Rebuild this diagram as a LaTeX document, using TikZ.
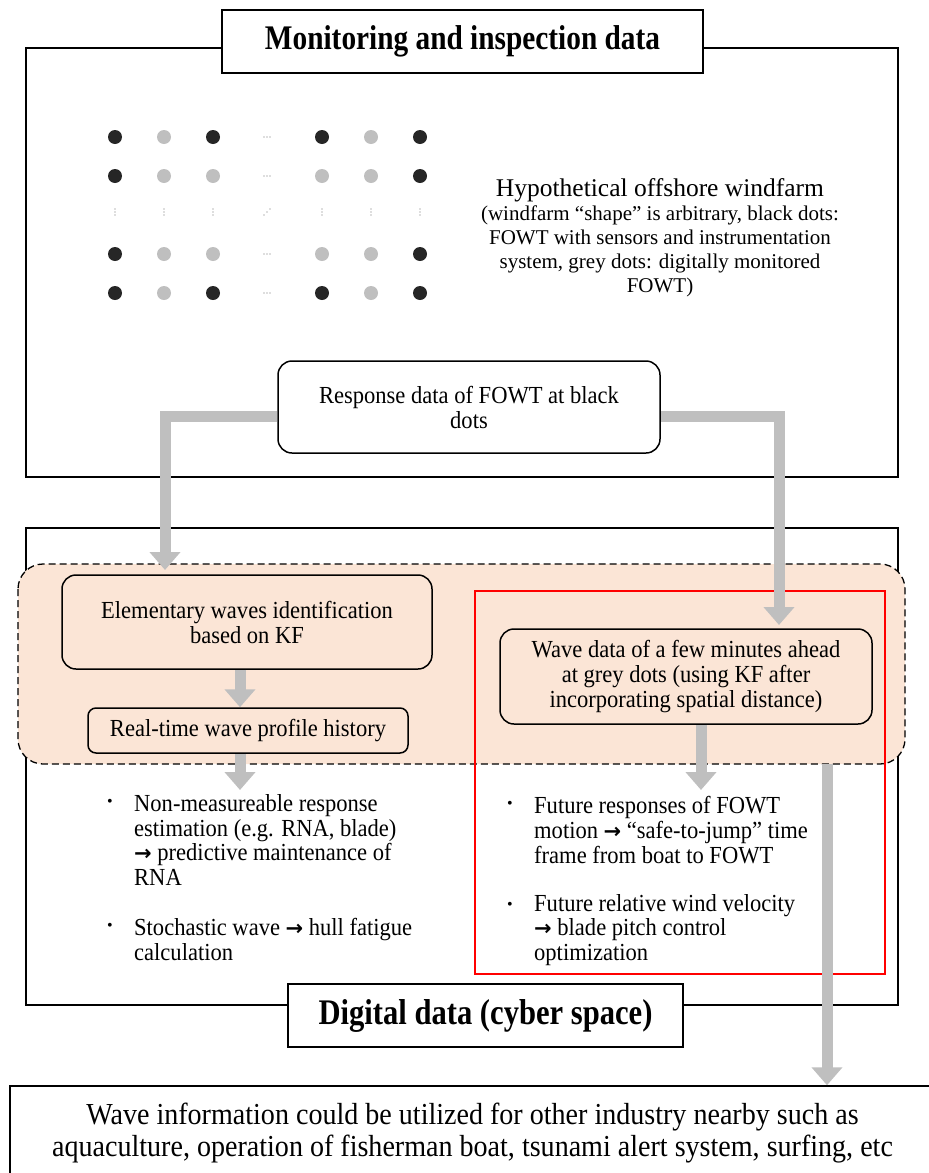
\documentclass[tikz,border=0pt]{standalone}
\usepackage{fontspec}
\setmainfont{Liberation Serif}
\newfontfamily\cond[FakeStretch=0.85]{Liberation Serif}
\newfontfamily\condb[FakeStretch=0.92]{Liberation Serif}
\newfontfamily\arrfont{DejaVu Sans}
\newcommand{\rarr}{{\arrfont\bfseries\fontsize{21}{21}\selectfont →}}
\usetikzlibrary{arrows.meta}
\definecolor{peach}{HTML}{FBE5D6}
\definecolor{arrowgray}{HTML}{BFBFBF}
\definecolor{dotblack}{HTML}{262626}
\definecolor{dotgray}{HTML}{BFBFBF}
\definecolor{tinygray}{HTML}{707070}
\tikzset{
  frame/.style={draw=black, line width=2.6pt},
  titlebox/.style={draw=black, line width=1.5pt, fill=white, inner sep=0pt, font=\cond\bfseries\fontsize{34.5}{38}\selectfont},
  rbox/.style={draw=black, line width=1.5pt, rounded corners=14pt, fill=peach, inner sep=0pt, align=center, font=\condb\fontsize{24.5}{25}\selectfont},
  bodytext/.style={inner sep=0pt, align=left, anchor=west, font=\condb\fontsize{24.5}{24.7}\selectfont},
  bul/.style={inner sep=0pt, font=\fontsize{16}{16}\selectfont},
  garrow/.style={draw=arrowgray, line width=11pt, -{Triangle[width=30pt,length=18pt]}},
  bdot/.style={fill=dotblack},
  gdot/.style={fill=dotgray},
  tiny/.style={fill=tinygray}
}
\begin{document}
\begin{tikzpicture}[x=1pt,y=-1pt]
\useasboundingbox (0,0) rectangle (929,1173);
% frames
\draw[frame] (26,48) rectangle (898,477);
\draw[frame] (26,528) rectangle (898,1005);
\node[titlebox, minimum width=481pt, minimum height=63pt] (title) at (462.5,41.5) {Monitoring and inspection data};
% dots grid
\foreach \x/\a/\b/\c/\d in {115/b/b/b/b,164/g/g/g/g,213/b/g/g/b,322/b/g/g/b,371/g/g/g/g,420/b/b/b/b}{
  \fill[\a dot] (\x,137) circle (7pt);
  \fill[\b dot] (\x,176) circle (7pt);
  \fill[\c dot] (\x,254) circle (7pt);
  \fill[\d dot] (\x,293) circle (7pt);
  \foreach \k in {-3,0,3} \fill[tiny] (\x,212+\k) circle (0.7pt);
}
\foreach \y in {137,176,254,293} \foreach \k in {-3,0,3} \fill[tiny] (267+\k,\y) circle (0.7pt);
\foreach \k in {-3,0,3} \fill[tiny] (267+\k,212-\k) circle (0.7pt);
\node[inner sep=0pt, align=center, font=\fontsize{21}{24}\selectfont] (hypo) at (660,238)
 {{\fontsize{25.5}{25}\selectfont Hypothetical offshore windfarm}\\
  (windfarm “shape” is arbitrary, black dots:\\
  FOWT with sensors and instrumentation\\
  system, grey dots: digitally monitored\\
  FOWT)};
% response box
\node[rbox, fill=white, minimum width=382pt, minimum height=92pt] (resp) at (469,407) {Response data of FOWT at black\\dots};
% peach region
\draw[dashed, dash pattern=on 7pt off 4pt, fill=peach, rounded corners=25pt, line width=1.3pt] (18,564) rectangle (905,764);
\draw[red, line width=1.3pt] (475,591) rectangle (885,974);
\node[rbox, minimum width=370pt, minimum height=94pt] (elem) at (247,622) {Elementary waves identification\\based on KF};
\node[rbox, rounded corners=8pt, minimum width=320pt, minimum height=45pt] (rt) at (248,730.5) {Real-time wave profile history};
\node[rbox, minimum width=372pt, minimum height=95pt] (wave) at (686,676.5) {Wave data of a few minutes ahead\\at grey dots (using KF after\\incorporating spatial distance)};
% bullets
\node[bul] (b1) at (110,803) {•};
\node[bodytext] (t1) at (134,840) {Non-measureable response\\estimation (e.g. RNA, blade)\\\rarr{} predictive maintenance of\\RNA};
\node[bul] (b2) at (110,927) {•};
\node[bodytext] (t2) at (134,939.5) {Stochastic wave \rarr{} hull fatigue\\calculation};
\node[bul] (b3) at (510,805) {•};
\node[bodytext] (t3) at (534,830) {Future responses of FOWT\\motion \rarr{} “safe-to-jump” time\\frame from boat to FOWT};
\node[bul] (b4) at (510,906) {•};
\node[bodytext] (t4) at (534,930) {Future relative wind velocity\\\rarr{} blade pitch control\\optimization};
% digital data
\node[titlebox, font=\cond\bfseries\fontsize{36}{40}\selectfont, minimum width=395pt, minimum height=63pt] (dig) at (485.5,1015.5) {Digital data (cyber space)};
% bottom box
\node[draw=black, line width=1.5pt, fill=white, inner sep=0pt, minimum width=925pt, minimum height=94pt, align=center, font=\condb\fontsize{30.5}{32}\selectfont] (bot) at (472.5,1133)
 {Wave information could be utilized for other industry nearby such as\\aquaculture, operation of fisherman boat, tsunami alert system, surfing, etc};
% arrows
\coordinate (lt) at (165,570);
\coordinate (rtt) at (779,625);
\coordinate (la) at (240,790);
\coordinate (ra) at (701,790);
\coordinate (ls) at (827,764);
\draw[garrow] ([yshift=-9pt]resp.west) -| (lt);
\draw[garrow] ([yshift=-9pt]resp.east) -| (rtt);
\draw[garrow] ([xshift=-7pt]elem.south) -- ([xshift=-8pt]rt.north);
\draw[garrow] ([xshift=-8pt]rt.south) -- (la);
\draw[garrow] ([xshift=15pt]wave.south) -- (ra);
\draw[garrow] (ls) -- (ls |- bot.north);
\end{tikzpicture}
\end{document}
